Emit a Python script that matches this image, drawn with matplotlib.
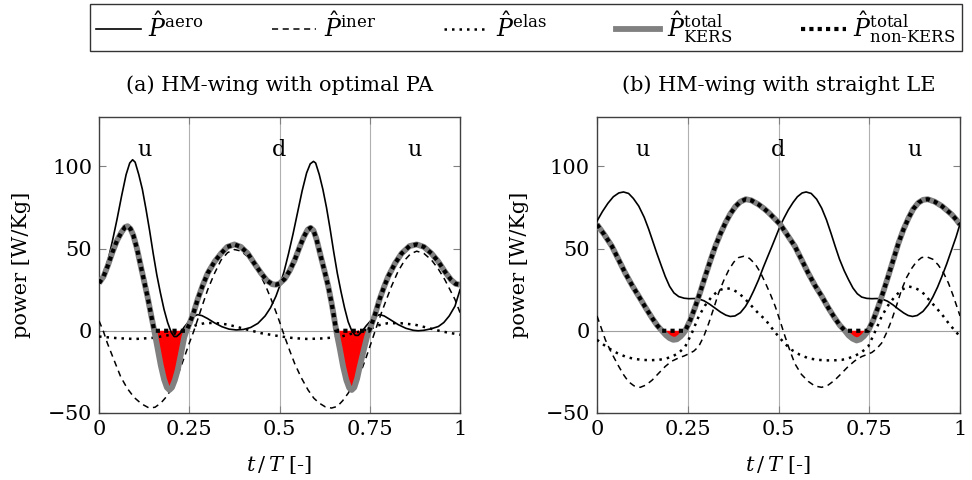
import matplotlib.pyplot as plt
import numpy as np

plt.rcParams['font.family'] = ['DejaVu Serif']
plt.rcParams['mathtext.fontset'] = 'dejavuserif'

# values: (t/T, power)
# ---- (a) HM-wing with optimal PA ----
a_aero = [(0, 29), (0.0125, 35), (0.025, 43), (0.0375, 55), (0.05, 68), (0.0625, 82), (0.075, 95),
          (0.085, 102), (0.093, 104), (0.1, 102.5), (0.11, 95), (0.12, 86), (0.13, 74), (0.14, 61),
          (0.15, 47), (0.16, 34), (0.17, 23), (0.18, 13), (0.19, 5), (0.2, -1), (0.208, -3.5),
          (0.215, -3.5), (0.225, -1.5), (0.235, 2), (0.25, 6), (0.262, 8.8), (0.273, 9.8),
          (0.285, 9.2), (0.3, 7.5), (0.32, 4.8), (0.34, 2.5), (0.36, 1), (0.38, 0.5), (0.4, 0.8),
          (0.42, 2), (0.44, 4.5), (0.46, 9), (0.475, 14), (0.49, 21), (0.5, 27), (0.5125, 36),
          (0.525, 47), (0.5375, 59), (0.55, 72), (0.5625, 85), (0.575, 96), (0.585, 101.5),
          (0.594, 103), (0.6, 102), (0.61, 95), (0.62, 86), (0.63, 75), (0.64, 62), (0.65, 48),
          (0.66, 35), (0.67, 24), (0.68, 14), (0.69, 5.5), (0.7, 0), (0.71, -2.8), (0.718, -2.8),
          (0.728, -0.5), (0.74, 3), (0.755, 6.7), (0.767, 9), (0.778, 9.8), (0.79, 9), (0.805, 7),
          (0.829, 3.7), (0.85, 1.5), (0.87, 0.3), (0.884, 0), (0.9, 0.3), (0.92, 1.2), (0.94, 2.6),
          (0.955, 5), (0.97, 9), (0.986, 15), (1.0, 25)]

a_iner = [(0, 6), (0.0115, 0), (0.023, -7.5), (0.04, -17), (0.06, -28), (0.078, -35), (0.097, -40.5),
          (0.118, -44.5), (0.139, -47), (0.155, -46.5), (0.171, -44), (0.185, -40.5), (0.199, -36),
          (0.213, -29.5), (0.227, -21.7), (0.238, -15), (0.25, -7.5), (0.262, -0.5), (0.273, 6.7),
          (0.287, 16), (0.301, 25), (0.32, 35), (0.338, 43), (0.356, 47.5), (0.375, 49.4),
          (0.393, 48.5), (0.412, 45), (0.43, 39.5), (0.449, 33), (0.463, 26.5), (0.477, 19),
          (0.49, 11.5), (0.5, 5.5), (0.514, -3.5), (0.528, -12), (0.542, -20), (0.56, -28.5),
          (0.579, -36), (0.595, -41), (0.61, -44), (0.627, -46.3), (0.644, -47), (0.66, -46),
          (0.675, -42.5), (0.69, -38), (0.708, -31.5), (0.727, -24), (0.741, -15.5), (0.755, -6.5),
          (0.768, 2), (0.782, 10.8), (0.796, 19), (0.81, 27), (0.828, 36), (0.847, 43),
          (0.863, 46.8), (0.88, 48.4), (0.9, 47), (0.921, 43), (0.94, 37.5), (0.958, 31),
          (0.972, 25), (0.986, 19), (1.0, 11)]

a_elas = [(0, -3.5), (0.05, -4.5), (0.1, -5), (0.15, -4.3), (0.2, -2.4), (0.225, -0.6), (0.25, 1.6),
          (0.27, 3.5), (0.292, 4.6), (0.32, 4.8), (0.356, 3.8), (0.385, 2.2), (0.412, 0.6),
          (0.45, -1.5), (0.505, -3.5), (0.54, -4.5), (0.579, -5), (0.625, -4.6), (0.671, -3.5),
          (0.71, -1.2), (0.735, 0.3), (0.755, 1.6), (0.777, 3.5), (0.8, 4.6), (0.835, 4.6),
          (0.875, 3.7), (0.91, 1.8), (0.949, -0.4), (1.0, -2.4)]

a_total = [(0, 29), (0.0125, 33), (0.025, 40), (0.0375, 48), (0.05, 55), (0.0625, 60), (0.072, 63),
           (0.079, 63.6), (0.087, 62), (0.095, 58), (0.105, 50), (0.116, 39), (0.125, 30),
           (0.134, 21), (0.143, 11), (0.153, 0), (0.162, -10.5), (0.171, -21), (0.18, -29.5),
           (0.188, -34.5), (0.195, -36), (0.202, -34.5), (0.21, -30), (0.218, -23.8), (0.227, -14),
           (0.236, -4), (0.242, 0), (0.25, 4), (0.262, 11), (0.273, 19), (0.287, 27.5), (0.301, 35),
           (0.32, 42), (0.338, 47), (0.355, 51), (0.375, 52.5), (0.393, 51), (0.412, 47), (0.43, 41),
           (0.449, 35), (0.465, 30.5), (0.48, 28.3), (0.49, 28), (0.5, 28.7), (0.514, 31.5),
           (0.528, 36.5), (0.542, 43), (0.555, 50.5), (0.567, 57), (0.578, 61.5), (0.586, 62.6),
           (0.594, 61), (0.602, 56), (0.61, 49), (0.618, 42), (0.625, 36), (0.635, 27), (0.644, 17),
           (0.65, 9.5), (0.657, 0), (0.667, -11), (0.676, -21.7), (0.685, -30), (0.693, -34.8),
           (0.7, -36), (0.707, -34.5), (0.715, -29), (0.722, -22), (0.733, -12), (0.742, -4),
           (0.748, 0), (0.755, 4), (0.764, 9.5), (0.777, 19), (0.79, 27), (0.801, 33), (0.82, 41),
           (0.838, 47), (0.86, 51.5), (0.88, 52.5), (0.9, 51), (0.921, 47), (0.94, 42), (0.958, 36),
           (0.975, 31), (0.988, 28.5), (1.0, 28)]

# ---- (b) HM-wing with straight LE ----
b_aero = [(0, 66.7), (0.015, 72.5), (0.03, 77.5), (0.045, 81.5), (0.06, 83.8), (0.073, 84.4),
          (0.087, 83.5), (0.1, 80.5), (0.115, 75.8), (0.13, 69), (0.142, 62), (0.152, 55.5),
          (0.165, 47), (0.178, 39), (0.188, 33), (0.2, 27), (0.212, 23), (0.225, 20.8), (0.24, 19.8),
          (0.253, 19.5), (0.267, 19.6), (0.28, 19.4), (0.295, 18.2), (0.31, 16.2), (0.325, 13.8),
          (0.34, 11.4), (0.355, 9.5), (0.367, 8.7), (0.38, 9.0), (0.395, 11), (0.409, 14.8),
          (0.42, 19), (0.432, 24.5), (0.445, 31), (0.458, 38.5), (0.47, 45), (0.482, 51.4),
          (0.495, 58.5), (0.505, 64), (0.515, 68.5), (0.527, 73.5), (0.54, 78), (0.552, 81.5),
          (0.565, 83.8), (0.576, 84.4), (0.59, 83.5), (0.605, 80), (0.619, 74.5), (0.632, 67.5),
          (0.645, 59), (0.656, 51.4), (0.668, 43.5), (0.681, 36.5), (0.693, 31), (0.705, 26),
          (0.717, 22.5), (0.729, 20.5), (0.743, 19.7), (0.757, 19.5), (0.77, 19.6), (0.784, 19.4),
          (0.8, 18), (0.815, 15.8), (0.83, 13.2), (0.845, 10.8), (0.857, 9.3), (0.869, 8.7),
          (0.882, 9.3), (0.898, 11.8), (0.913, 15.9), (0.925, 20.5), (0.938, 26.5), (0.95, 33),
          (0.963, 40.5), (0.977, 49.4), (0.989, 57), (1.0, 65)]

b_iner = [(0, 9), (0.012, 1.5), (0.023, -5.5), (0.04, -13.5), (0.06, -21.7), (0.074, -27),
          (0.087, -31), (0.102, -33.5), (0.119, -34.4), (0.135, -33), (0.152, -30), (0.17, -25.8),
          (0.188, -21.7), (0.205, -18.6), (0.225, -16.5), (0.24, -15.3), (0.253, -14),
          (0.267, -12.3), (0.28, -9.6), (0.294, -3.5), (0.308, 4.7), (0.322, 14), (0.335, 23),
          (0.349, 30.5), (0.363, 37), (0.377, 41.8), (0.39, 44.5), (0.404, 45.3), (0.42, 44),
          (0.436, 40.5), (0.45, 35.5), (0.464, 29), (0.478, 22), (0.491, 14.8), (0.505, 5.5),
          (0.518, -3.5), (0.532, -12.5), (0.545, -20), (0.563, -26.5), (0.582, -30.8), (0.6, -33.6),
          (0.619, -34.4), (0.637, -33), (0.655, -30), (0.674, -25.8), (0.692, -21.7), (0.71, -18.3),
          (0.729, -15.7), (0.743, -14.5), (0.757, -13.2), (0.77, -11), (0.784, -7.5), (0.798, -1),
          (0.812, 6.7), (0.826, 16), (0.839, 25), (0.853, 32.5), (0.867, 38), (0.88, 42),
          (0.894, 44.5), (0.908, 45), (0.925, 43.5), (0.94, 40), (0.955, 35), (0.968, 29),
          (0.98, 22), (0.99, 15.5), (1.0, 9)]

b_elas = [(0, -5.5), (0.015, -8), (0.032, -10.6), (0.055, -13.5), (0.078, -15.7), (0.1, -17),
          (0.124, -17.7), (0.147, -17.9), (0.17, -17.7), (0.19, -16.9), (0.207, -15.7),
          (0.225, -13.5), (0.243, -9.6), (0.262, -1), (0.28, 8.7), (0.298, 15.5), (0.317, 21),
          (0.335, 24.5), (0.354, 26), (0.372, 25.3), (0.39, 23), (0.408, 19.3), (0.427, 14.8),
          (0.445, 10.5), (0.464, 6.7), (0.482, 1.5), (0.5, -3.5), (0.518, -8), (0.536, -11.6),
          (0.558, -14.5), (0.582, -16.7), (0.605, -17.6), (0.628, -18), (0.651, -18), (0.674, -17.7),
          (0.693, -16.7), (0.711, -15.2), (0.729, -13), (0.747, -9.6), (0.765, -1), (0.784, 8.7),
          (0.802, 15.5), (0.821, 21), (0.84, 25), (0.858, 27), (0.876, 26), (0.894, 24),
          (0.912, 19.5), (0.931, 14.8), (0.95, 10), (0.968, 4.7), (0.984, 0.5), (1.0, -3.5)]

b_total = [(0, 64.6), (0.02, 58.5), (0.041, 51.4), (0.06, 43), (0.078, 35), (0.097, 27.5),
           (0.115, 21), (0.134, 14), (0.152, 7.7), (0.166, 3.2), (0.179, 0), (0.19, -2.7),
           (0.2, -4.5), (0.21, -5.5), (0.22, -5.2), (0.23, -3.5), (0.237, -1.8), (0.243, 0),
           (0.257, 6.5), (0.271, 14.8), (0.285, 24), (0.298, 33), (0.312, 42.5), (0.326, 51.4),
           (0.34, 59), (0.354, 65.7), (0.367, 71), (0.381, 75.5), (0.395, 78.5), (0.41, 80),
           (0.425, 79.3), (0.445, 76.8), (0.46, 74.3), (0.473, 71.8), (0.49, 68), (0.505, 64.6),
           (0.525, 58), (0.545, 51.4), (0.564, 43), (0.582, 35), (0.6, 27.7), (0.619, 21),
           (0.637, 14), (0.655, 7.7), (0.669, 3.3), (0.683, 0), (0.693, -2.8), (0.704, -4.8),
           (0.715, -5.9), (0.725, -5.2), (0.735, -3.3), (0.741, -1.7), (0.747, 0), (0.761, 6.5),
           (0.775, 14.8), (0.789, 24), (0.802, 33), (0.816, 43), (0.83, 53), (0.844, 61.5),
           (0.858, 68.5), (0.871, 74), (0.885, 77.8), (0.898, 79.6), (0.911, 80), (0.93, 78.5),
           (0.95, 75.8), (0.965, 73), (0.977, 70.7), (0.99, 67.5), (1.0, 64.6)]

titles = ['(a) HM-wing with optimal PA', '(b) HM-wing with straight LE']
phase_labels = ['u', 'd', 'u']
phase_pos = [0.125, 0.5, 0.875]
xticks = [0, 0.25, 0.5, 0.75, 1]
xticklabels = ['0', '0.25', '0.5', '0.75', '1']
yticks = [-50, 0, 50, 100]
yticklabels = [r'$-50$', '0', '50', '100']

fig = plt.figure(figsize=(9.72, 4.8), dpi=100)
ax_a = fig.add_axes([0.1019, 0.1396, 0.3714, 0.6167])
ax_b = fig.add_axes([0.6142, 0.1396, 0.3735, 0.6167])

fs = 15
for ax, series, title in zip([ax_a, ax_b],
                             [(a_aero, a_iner, a_elas, a_total), (b_aero, b_iner, b_elas, b_total)],
                             titles):
    aero, iner, elas, total = [np.array(s).T for s in series]
    t_to, to = total

    for xv in [0.25, 0.5, 0.75]:
        ax.axvline(xv, color='#b0b0b0', lw=0.8, zorder=0)
    ax.axhline(0, color='#a0a0a0', lw=0.8, zorder=0)

    ax.fill_between(t_to, to, 0, where=to < 0, interpolate=True, color='red', lw=0, zorder=1)
    ax.plot(aero[0], aero[1], color='black', lw=1.2, zorder=3)
    ax.plot(iner[0], iner[1], color='black', lw=1.1, dashes=(4, 3), zorder=3)
    ax.plot(elas[0], elas[1], color='black', lw=1.8, dashes=(1, 2), zorder=3)
    ax.plot(t_to, to, color='#808080', lw=4.2, solid_capstyle='butt', zorder=4)
    ax.plot(t_to, np.maximum(to, 0), color='black', lw=3.0, dashes=(1, 1),
            dash_capstyle='butt', zorder=5)

    for lab, xp in zip(phase_labels, phase_pos):
        ax.text(xp, 110, lab, ha='center', va='center', fontsize=16)

    ax.set_xlim(0, 1)
    ax.set_ylim(-50, 130)
    ax.set_xticks(xticks)
    ax.set_xticklabels(xticklabels)
    ax.set_yticks(yticks)
    ax.set_yticklabels(yticklabels)
    ax.tick_params(direction='in', top=True, right=True, length=5, color='#808080',
                   labelsize=fs, pad=5)
    for sp in ax.spines.values():
        sp.set_color('#404040')
        sp.set_linewidth(1.0)
    ax.set_title(title, fontsize=fs, pad=19)
    ax.set_xlabel(r'$t\,/\,T$ [-]', fontsize=fs, labelpad=11)
    ax.set_ylabel('power [W/Kg]', fontsize=fs, labelpad=12)

handles = [
    plt.Line2D([], [], color='black', lw=1.2),
    plt.Line2D([], [], color='black', lw=1.1, dashes=(4, 3)),
    plt.Line2D([], [], color='black', lw=1.8, dashes=(1, 2)),
    plt.Line2D([], [], color='#808080', lw=4.2),
    plt.Line2D([], [], color='black', lw=3.0, dashes=(1, 1)),
]
labels = [r'$\hat{P}^{\mathrm{aero}}$', r'$\hat{P}^{\mathrm{iner}}$', r'$\hat{P}^{\mathrm{elas}}$',
          r'$\hat{P}^{\mathrm{total}}_{\mathrm{KERS}}$', r'$\hat{P}^{\mathrm{total}}_{\text{non-KERS}}$']
leg = fig.legend(handles, labels, loc='upper center', bbox_to_anchor=(0.541, 1.0), ncol=5,
                 fontsize=17, frameon=True, fancybox=False, edgecolor='black', handlelength=1.9,
                 columnspacing=2.9, handletextpad=0.3, borderpad=0.25, borderaxespad=0.15)
leg.get_frame().set_linewidth(1.0)

fig.savefig('out.png', dpi=100)
